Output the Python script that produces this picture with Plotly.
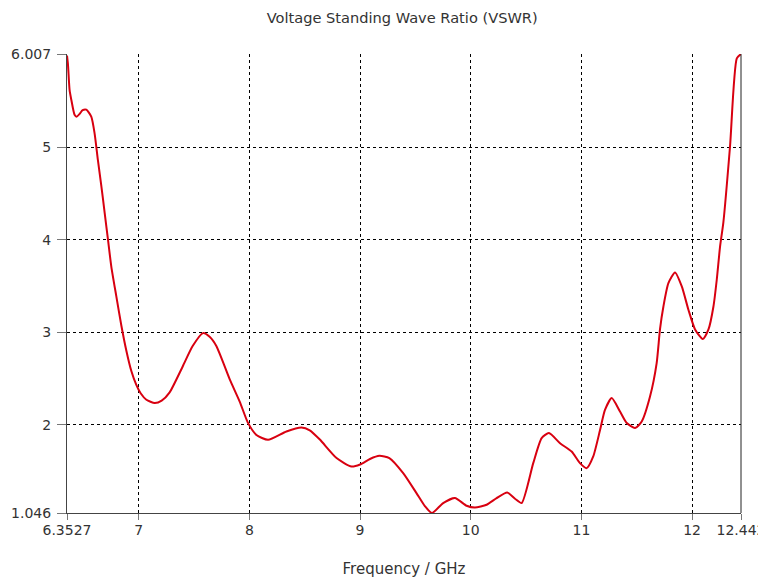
import plotly.graph_objects as go

freq_ghz = [6.3527, 6.361, 6.376, 6.392, 6.421, 6.439, 6.467, 6.494, 6.527, 6.572,
            6.602, 6.632, 6.663, 6.693, 6.723, 6.753, 6.798, 6.844, 6.889, 6.934,
            6.979, 7.018, 7.07, 7.145, 7.208, 7.28, 7.398, 7.488, 7.581, 7.641,
            7.702, 7.823, 7.913, 7.988, 8.064, 8.169, 8.335, 8.471, 8.546, 8.637,
            8.788, 8.923, 9.0, 9.09, 9.175, 9.265, 9.39, 9.51, 9.586, 9.65,
            9.751, 9.857, 9.963, 10.038, 10.144, 10.234, 10.33, 10.4, 10.46, 10.565,
            10.641, 10.707, 10.807, 10.912, 10.987, 11.048, 11.107, 11.168, 11.213, 11.274,
            11.349, 11.41, 11.485, 11.545, 11.62, 11.68, 11.71, 11.741, 11.786, 11.846,
            11.907, 11.967, 12.027, 12.097, 12.148, 12.193, 12.223, 12.253, 12.283, 12.343,
            12.404, 12.442]
vswr = [5.99, 5.90, 5.62, 5.51, 5.35, 5.33, 5.36, 5.40, 5.405, 5.33,
        5.15, 4.86, 4.58, 4.29, 4.00, 3.71, 3.39, 3.07, 2.80, 2.58,
        2.43, 2.34, 2.27, 2.234, 2.26, 2.35, 2.63, 2.85, 2.99, 2.95,
        2.85, 2.49, 2.25, 2.02, 1.89, 1.837, 1.927, 1.97, 1.94, 1.84,
        1.64, 1.548, 1.57, 1.63, 1.664, 1.64, 1.477, 1.261, 1.12, 1.046,
        1.153, 1.207, 1.124, 1.105, 1.135, 1.207, 1.267, 1.20, 1.153, 1.585,
        1.856, 1.91, 1.80, 1.71, 1.585, 1.531, 1.657, 1.94, 2.16, 2.288,
        2.143, 2.018, 1.964, 2.035, 2.305, 2.666, 3.03, 3.278, 3.53, 3.646,
        3.495, 3.243, 3.03, 2.926, 3.03, 3.278, 3.567, 3.927, 4.19, 5.01,
        5.96, 6.007]

x_tickvals = [6.3527, 7, 8, 9, 10, 11, 12, 12.442]
x_ticktext = ["6.3527", "7", "8", "9", "10", "11", "12", "12.442"]
y_tickvals = [1.046, 2, 3, 4, 5, 6.007]
y_ticktext = ["1.046", "2", "3", "4", "5", "6.007"]

font_family = "DejaVu Sans, Verdana, sans-serif"

fig = go.Figure()
fig.add_trace(go.Scatter(
    x=freq_ghz, y=vswr, mode="lines",
    line=dict(color="#d80010", width=2, shape="spline", smoothing=0.6),
    showlegend=False, hoverinfo="x+y"))

fig.update_layout(
    width=758, height=570,
    margin=dict(l=59, r=25, t=46, b=65, autoexpand=False),
    paper_bgcolor="white", plot_bgcolor="white",
    font=dict(family=font_family, size=14, color="#333333"),
    title=dict(text="Voltage Standing Wave Ratio (VSWR)", x=0.52, xanchor="center",
               y=0.982, yanchor="middle", font=dict(size=14.6, color="#333333")),
    xaxis=dict(range=[6.3527, 12.442], tickmode="array", tickvals=x_tickvals,
               ticktext=x_ticktext, showgrid=True, gridcolor="black", gridwidth=1,
               griddash="3px,3px", zeroline=False, showline=True, linecolor="#444444",
               linewidth=1, ticks="outside", ticklen=6, tickcolor="#777777",
               ticklabelstandoff=-2,
               automargin=True, tickfont=dict(size=14, color="#333333"),
               title=dict(text="Frequency / GHz", standoff=32,
                          font=dict(size=15, color="#333333"))),
    yaxis=dict(range=[1.046, 6.007], tickmode="array", tickvals=y_tickvals,
               ticktext=y_ticktext, showgrid=True, gridcolor="black", gridwidth=1,
               griddash="3px,3px", zeroline=False, showline=True, linecolor="#444444",
               linewidth=1, ticks="outside", ticklen=9, tickcolor="#777777",
               ticklabelstandoff=3,
               automargin=False, tickfont=dict(size=14, color="#333333")),
    shapes=[dict(type="line", xref="paper", yref="paper", x0=1, x1=1, y0=0, y1=1,
                 line=dict(color="#222222", width=1))],
)

fig.write_html("out.html")
